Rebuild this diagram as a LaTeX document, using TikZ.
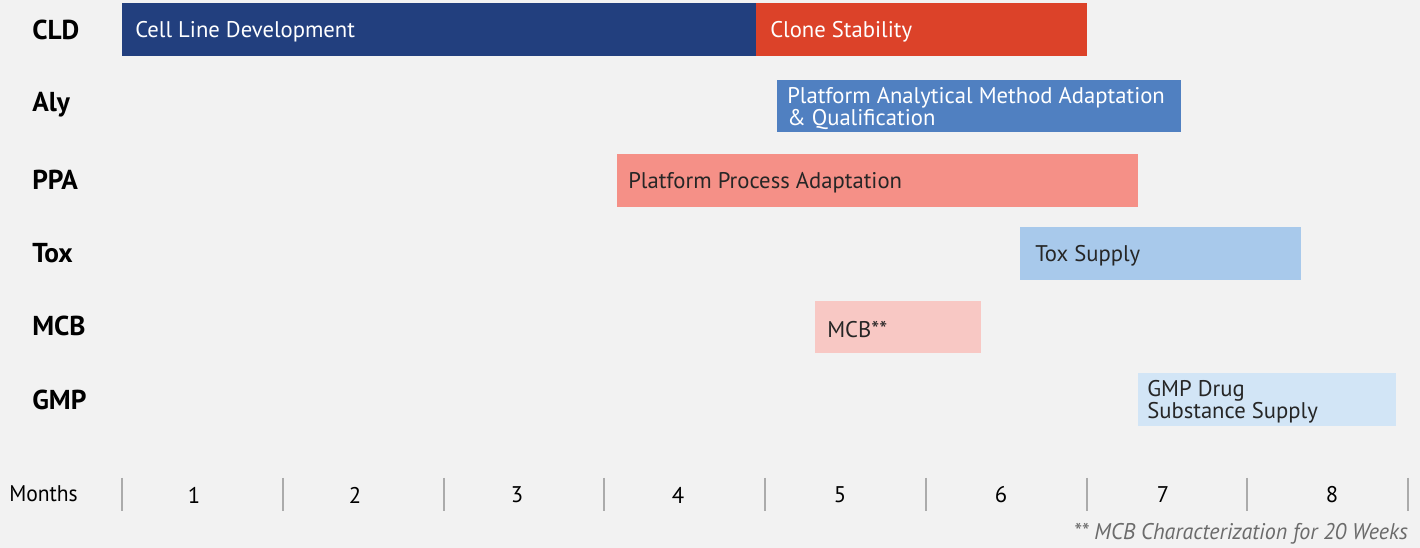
\documentclass[tikz,border=0pt]{standalone}
\usepackage{fontspec}
\setmainfont{PT Sans}
\definecolor{bg}{HTML}{F2F2F2}
\definecolor{cnavy}{HTML}{223F7E}
\definecolor{cred}{HTML}{DC4229}
\definecolor{cblue}{HTML}{5080C1}
\definecolor{csalmon}{HTML}{F59087}
\definecolor{clblue}{HTML}{A8C9EB}
\definecolor{cpink}{HTML}{F8C8C4}
\definecolor{cpale}{HTML}{D2E5F6}
\definecolor{darktext}{HTML}{262626}
\definecolor{tickgray}{HTML}{ABABAB}
\definecolor{notegray}{HTML}{6B6B6B}
\newcommand{\gbar}[9]{%
  \pgfmathsetlengthmacro\gbw{(#4-#2)*0.75pt}%
  \pgfmathsetlengthmacro\gbh{(#5-#3)*0.75pt}%
  \pgfmathsetlengthmacro\gbi{#8*0.75pt}%
  \node[barbox, fill=#6, minimum width=\gbw, minimum height=\gbh] (#1) at (#2,#3) {};
  \node[bartext, text=#7] (#1t) at ([xshift=\gbi, yshift=-1.6pt]#1.west) {#9};}
\begin{document}
\begin{tikzpicture}[x=0.75pt,y=-0.75pt,
  barbox/.style={anchor=north west, inner sep=0pt, outer sep=0pt},
  bartext/.style={anchor=west, inner sep=0pt, align=left,
    font=\fontsize{17}{14.8}\selectfont},
  rowlab/.style={anchor=west, inner sep=0pt, font=\fontsize{20.5}{22}\selectfont\bfseries, text=black},
  axlab/.style={inner sep=0pt, font=\fontsize{17}{18}\selectfont, text=black},
  tickline/.style={draw=tickgray, line width=1.1pt}]
\fill[bg] (0,0) rectangle (1420,548);
\useasboundingbox (0,0) rectangle (1420,548);
% row labels
\node[rowlab] (lcld) at (32,30) {CLD};
\node[rowlab] (laly) at (32,105) {Aly};
\node[rowlab] (lppa) at (32,180) {PPA};
\node[rowlab] (ltox) at (32,253) {Tox};
\node[rowlab] (lmcb) at (32,326) {MCB};
\node[rowlab] (lgmp) at (32,400) {GMP};
% bars
\gbar{bcld}{122}{3}{756}{56}{cnavy}{white}{13}{Cell Line Development}
\gbar{bclone}{756}{3}{1087}{56}{cred}{white}{14}{Clone Stability}
\gbar{baly}{777}{80}{1181}{132}{cblue}{white}{10}{Platform Analytical Method Adaptation\\\& Qualification}
\gbar{bppa}{617}{154}{1138}{207}{csalmon}{darktext}{11}{Platform Process Adaptation}
\gbar{btox}{1020}{227}{1301}{280}{clblue}{darktext}{15}{Tox Supply}
\gbar{bmcb}{815}{301}{981}{353}{cpink}{darktext}{12}{MCB**}
\gbar{bgmp}{1138}{373}{1396}{426}{cpale}{darktext}{9}{GMP Drug\\Substance Supply}
% axis
\node[axlab, anchor=west] (months) at (9,494) {\scalebox{0.95}[1]{Months}};
\foreach \x in {122,283,444,604,765,926,1087,1247,1408}
  \draw[tickline] (\x,478) -- (\x,511);
\node[axlab] (m1) at (194,495) {1};
\node[axlab] (m2) at (355,495) {2};
\node[axlab] (m3) at (517,495) {3};
\node[axlab] (m4) at (678,495) {4};
\node[axlab] (m5) at (840,495) {5};
\node[axlab] (m6) at (1001,495) {6};
\node[axlab] (m7) at (1163,495) {7};
\node[axlab] (m8) at (1332,495) {8};
\node[anchor=east, inner sep=0pt, text=notegray, font=\fontsize{17}{18}\selectfont\itshape] (note) at (1408,534) {\scalebox{0.97}[1]{** MCB Characterization for 20 Weeks}};
\end{tikzpicture}
\end{document}
